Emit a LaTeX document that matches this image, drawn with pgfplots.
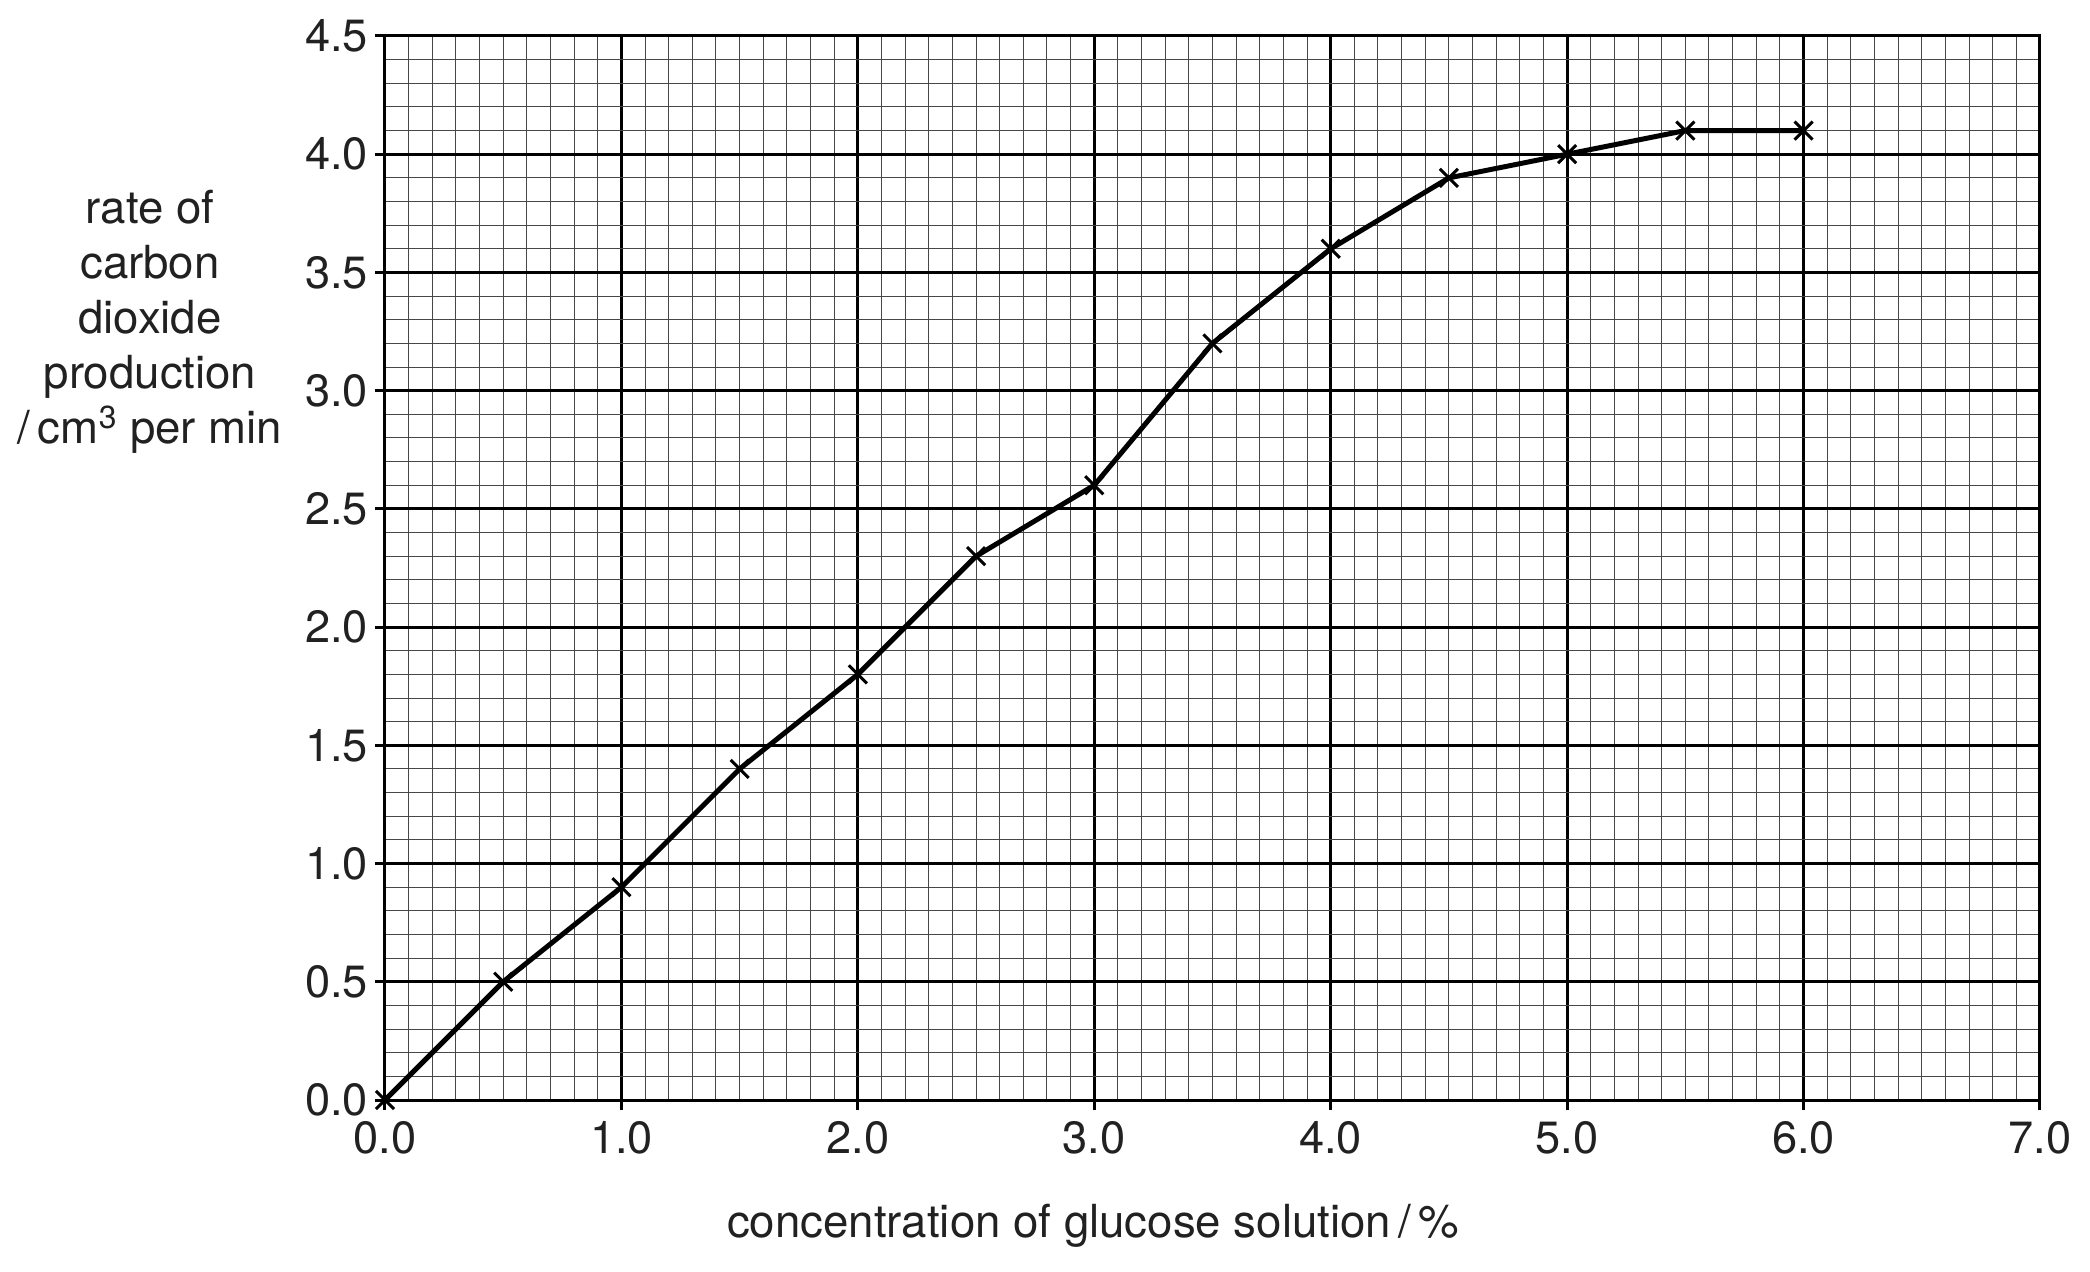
\documentclass[border=0pt]{standalone}
\usepackage{pgfplots}
\pgfplotsset{compat=1.18}
\usepackage{fontspec}
\setmainfont{TeX Gyre Heros}
\begin{document}
\begin{tikzpicture}
\useasboundingbox (-192.5pt,-85.5pt) rectangle (852.5pt,550pt);
\begin{axis}[
  at={(0,0)}, anchor=south west,
  scale only axis, width=827.5pt, height=532pt,
  xmin=0, xmax=7, ymin=0, ymax=4.5,
  xtick={0,1,2,3,4,5,6,7},
  ytick={0,0.5,1,1.5,2,2.5,3,3.5,4,4.5},
  minor x tick num=9, minor y tick num=4,
  grid=both,
  major grid style={line width=1.5pt, black},
  minor grid style={line width=0.5pt, black!72},
  axis line style={line width=1.5pt, black},
  tick align=outside,
  tick pos=left,
  major tick length=5pt,
  minor tick length=0pt,
  every tick/.style={line width=1.5pt, black},
  /pgf/number format/.cd, fixed, fixed zerofill, precision=1, assume math mode=true,
  /pgfplots/.cd,
  tick label style={font=\fontsize{22.6}{26}\selectfont, text=black!87},
  xticklabel style={yshift=-2pt},
  clip=false,
]
\addplot[black, line width=2.5pt, mark=x, mark size=6.4pt,
  mark options={line width=1.5pt, solid}] coordinates {
  (0,0) (0.5,0.5) (1,0.9) (1.5,1.4) (2,1.8) (2.5,2.3) (3,2.6)
  (3.5,3.2) (4,3.6) (4.5,3.9) (5,4.0) (5.5,4.1) (6,4.1)
};
\node[anchor=center, text=black!87, font=\fontsize{22.8}{26}\selectfont]
  at (rel axis cs:0.428,0) [yshift=-63pt] {concentration of glucose solution\,/\,\%};
\node[anchor=center, align=center, text=black!87, font=\fontsize{22.8}{27.5}\selectfont]
  at (rel axis cs:0,0.731) [xshift=-117.5pt]
  {rate of\\carbon\\dioxide\\production\\/\,cm\textsuperscript{3} per min};
\end{axis}
\end{tikzpicture}
\end{document}
